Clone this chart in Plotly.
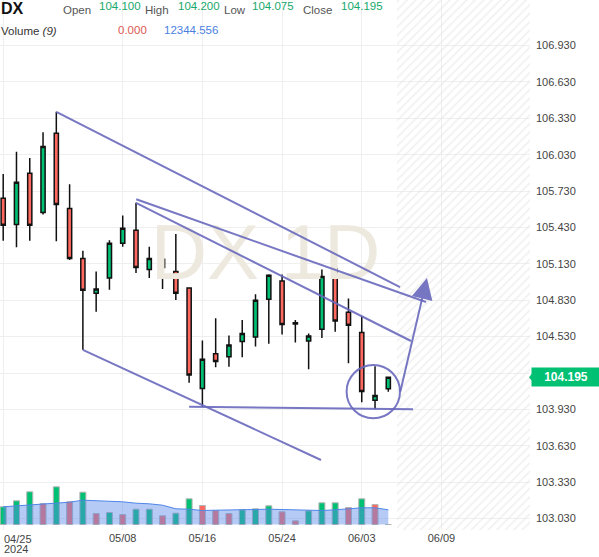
import plotly.graph_objects as go

# ---------------- data ----------------
dates = ['04/25', '04/26', '04/29', '04/30', '05/01', '05/02', '05/03', '05/06', '05/07', '05/08',
         '05/09', '05/10', '05/13', '05/14', '05/15', '05/16', '05/17', '05/20', '05/21', '05/22',
         '05/23', '05/24', '05/27', '05/28', '05/29', '05/30', '05/31', '06/03', '06/04', '06/05']
future_slots = ['06/06', '06/07', '06/08', '06/09']

open_ = [105.670, 105.454, 105.877, 105.554, 106.206, 105.587, 105.175, 104.888, 105.013, 105.299,
         105.407, 105.084, 105.167, 105.067, 104.930, 104.103, 104.388, 104.365, 104.490, 104.528,
         104.839, 104.988, 104.644, 104.493, 104.590, 105.092, 104.731, 104.565, 104.005, 104.100]
high = [105.871, 106.054, 106.002, 106.215, 106.383, 105.786, 105.238, 105.067, 105.324, 105.529,
        105.633, 105.271, 105.230, 105.377, 104.934, 104.498, 104.681, 104.540, 104.667, 104.880,
        105.045, 105.042, 104.667, 104.556, 105.084, 105.130, 104.844, 104.700, 104.286, 104.200]
low = [105.321, 105.266, 105.321, 105.537, 105.316, 105.161, 104.421, 104.736, 104.916, 105.271,
       105.055, 105.013, 104.922, 104.833, 104.150, 103.952, 104.277, 104.282, 104.360, 104.448,
       104.471, 104.548, 104.481, 104.261, 104.518, 104.570, 104.311, 103.989, 103.931, 104.075]
close = [105.449, 105.803, 105.449, 106.098, 105.620, 105.175, 104.913, 104.922, 105.299, 105.424,
         105.100, 105.175, 105.100, 104.888, 104.213, 104.344, 104.324, 104.462, 104.556, 104.830,
         105.036, 104.631, 104.634, 104.535, 105.025, 104.659, 104.623, 104.078, 104.045, 104.195]

volume = [14870, 19910, 27470, 17640, 31670, 19070, 27130, 9240, 10080, 8400,
          12850, 12850, 7310, 9490, 21590, 15960, 11760, 9240, 12350, 13190,
          15710, 10670, 3110, 11510, 18230, 18230, 14280, 21590, 16800, 0]
vol_dir = ['up', 'up', 'up', 'down', 'up', 'down', 'up', 'down', 'up', 'down',
           'up', 'up', 'down', 'up', 'up', 'down', 'down', 'down', 'up', 'up',
           'up', 'down', 'down', 'up', 'up', 'up', 'down', 'up', 'down', 'down']
vol_ma9 = [14870, 15710, 16210, 17050, 18480, 18730, 20410, 20160, 19570, 19070,
           17890, 17390, 16210, 13190, 12850, 11760, 12010, 12010, 12350, 12600,
           12850, 12600, 12010, 11510, 11760, 12350, 13190, 14030, 14030, 12344.556]

x_tick_labels = ['05/08', '05/16', '05/24', '06/03', '06/09']
y_tick_labels = ['103.030', '103.330', '103.630', '103.930', '104.230', '104.530', '104.830',
                 '105.130', '105.430', '105.730', '106.030', '106.330', '106.630', '106.930']

symbol = 'DX'
last_ohlc = [('Open', '104.100'), ('High', '104.200'), ('Low', '104.075'), ('Close', '104.195')]
last_price = '104.195'
vol_label_value, vol_ma_value = '0.000', '12344.556'

# ---------------- styling ----------------
GREEN = '#00C073'
RED = '#FF695F'
PURPLE = 'rgba(104,104,188,0.9)'
TXT_GREEN = '#17A86B'
FONT = 'Liberation Sans, Arial, sans-serif'
PLOT_W, PLOT_H = 530, 530
XR = [-0.241, 39.67]
YR = [102.936, 107.305]

slots = dates + future_slots
x = list(range(len(dates)))
tick_pos = [slots.index(t) for t in x_tick_labels]

fig = go.Figure()

# watermark (behind candles)
fig.add_trace(go.Scatter(
    x=[XR[0] + 0.501 * (XR[1] - XR[0])], y=[YR[0] + 0.5113 * (YR[1] - YR[0])],
    mode='text', text=['DX 1D'], textposition='middle center',
    textfont=dict(size=78, color='#ede9de', family=FONT), hoverinfo='skip'))

fig.add_trace(go.Candlestick(
    x=x, open=open_, high=high, low=low, close=close,
    increasing=dict(line=dict(color='#111111', width=1.5), fillcolor=GREEN),
    decreasing=dict(line=dict(color='#111111', width=1.5), fillcolor=RED),
    whiskerwidth=0, hoverinfo='skip'))

fig.add_trace(go.Bar(
    x=x, y=volume, yaxis='y2', width=0.45,
    marker=dict(color=[GREEN if d == 'up' else RED for d in vol_dir],
                line=dict(color='#b4b4b4', width=1)), hoverinfo='skip'))
fig.add_trace(go.Scatter(
    x=x, y=vol_ma9, yaxis='y2', mode='lines',
    line=dict(color='#4f86e8', width=1), fill='tozeroy',
    fillcolor='rgba(90,140,235,0.45)', hoverinfo='skip'))

# hatched future area
FUTURE_START = len(dates) - 1 + 0.65
fig.add_trace(go.Bar(
    x=[(FUTURE_START + XR[1] + 1) / 2], y=[1], width=[XR[1] + 1 - FUTURE_START], yaxis='y3',
    marker=dict(color='rgba(255,255,255,0)', line=dict(width=0),
                pattern=dict(shape='/', fgcolor='#e3e3e3', bgcolor='rgba(255,255,255,0)',
                             size=6, solidity=0.3, fillmode='overlay')),
    hoverinfo='skip'))

# ---------------- drawings ----------------
lines = [
    ((4, high[4]), (29.88, 104.939)),
    ((10.02, 105.662), (31.84, 104.815)),
    ((10, high[10]), (30.71, 104.494)),
    ((6, low[6]), (23.93, 103.513)),
    ((14.0, low[15]), (30.86, low[28])),
]
shapes = []
for (xa, ya), (xb, yb) in lines:
    shapes.append(dict(type='line', xref='x', yref='y', x0=xa, y0=ya, x1=xb, y1=yb,
                       line=dict(color=PURPLE, width=2), layer='above'))
shapes.append(dict(type='circle', xref='x', yref='y', x0=25.86, x1=29.88, y0=103.857, y1=104.296,
                   line=dict(color=PURPLE, width=2), layer='above'))
# pointer of the last-price tag
shapes.append(dict(type='path', xref='paper', yref='y', xsizemode='pixel', ysizemode='pixel',
                   xanchor=1, yanchor=float(last_price), path='M -1,0 L 3,5 L 3,-5 Z',
                   fillcolor=GREEN, line=dict(width=0), layer='above'))

annotations = [dict(x=31.91, y=105.013, ax=29.88, ay=104.065, xref='x', yref='y', axref='x', ayref='y',
                    showarrow=True, arrowhead=2, arrowsize=2.1, arrowwidth=2, arrowcolor=PURPLE, text='')]


def hdr(text, px, py, color, size=11.5):
    annotations.append(dict(text=text, xref='paper', yref='paper', x=px / PLOT_W, y=1 - py / PLOT_H,
                            xanchor='left', yanchor='middle', xshift=-1, showarrow=False,
                            font=dict(size=size, color=color, family=FONT)))


hdr('<b>%s</b>' % symbol, 0, 9, '#111111', 16)
label_x = [62, 144, 223, 302]
value_x = [98.5, 177, 251, 340]
for (lab, val), lx, vx in zip(last_ohlc, label_x, value_x):
    hdr(lab, lx, 9.5, '#555555')
    hdr(val, vx, 6, TXT_GREEN)
hdr('Volume <i>(9)</i>', 0, 30.5, '#333333')
hdr(vol_label_value, 117, 29.5, '#e05a50')
hdr(vol_ma_value, 163, 29.5, '#4a7fe0')

# first date label with year
annotations.append(dict(text=dates[0], xref='x', yref='paper', x=0, y=1 - 538.5 / PLOT_H, xanchor='left',
                        yanchor='middle', xshift=-1, showarrow=False, font=dict(size=11, color='#444', family=FONT)))
annotations.append(dict(text='2024', xref='x', yref='paper', x=0, y=1 - 549 / PLOT_H, xanchor='left',
                        yanchor='middle', xshift=-1, showarrow=False, font=dict(size=11, color='#444', family=FONT)))

# last price box
annotations.append(dict(text='<b>%s</b>' % last_price, xref='paper', yref='y', x=1, y=float(last_price),
                        xanchor='left', yanchor='middle', xshift=1, showarrow=False, bgcolor=GREEN,
                        width=68, height=18, borderpad=0, align='center',
                        font=dict(size=12, color='white', family=FONT)))

fig.update_layout(
    width=599, height=557, margin=dict(l=0, r=69, t=0, b=27),
    paper_bgcolor='white', plot_bgcolor='white', showlegend=False, hovermode=False,
    barmode='overlay', boxgap=0.55, font=dict(family=FONT),
    xaxis=dict(range=XR, rangeslider=dict(visible=False), tickvals=[0] + tick_pos,
               ticktext=[''] + x_tick_labels, showgrid=True, gridcolor='#efefef', gridwidth=1,
               zeroline=False, showline=False, ticks='', tickfont=dict(size=11, color='#444')),
    yaxis=dict(range=YR, side='right', tickvals=[float(t) for t in y_tick_labels], ticktext=y_tick_labels,
               showgrid=True, gridcolor='#efefef', gridwidth=1, zeroline=False, showline=False,
               ticks='', ticklabelstandoff=5, tickfont=dict(size=11, color='#444')),
    yaxis2=dict(overlaying='y', range=[-4620, 440580], visible=False),
    yaxis3=dict(overlaying='y', range=[0, 1], visible=False),
    shapes=shapes, annotations=annotations,
)

fig.write_html('out.html')
